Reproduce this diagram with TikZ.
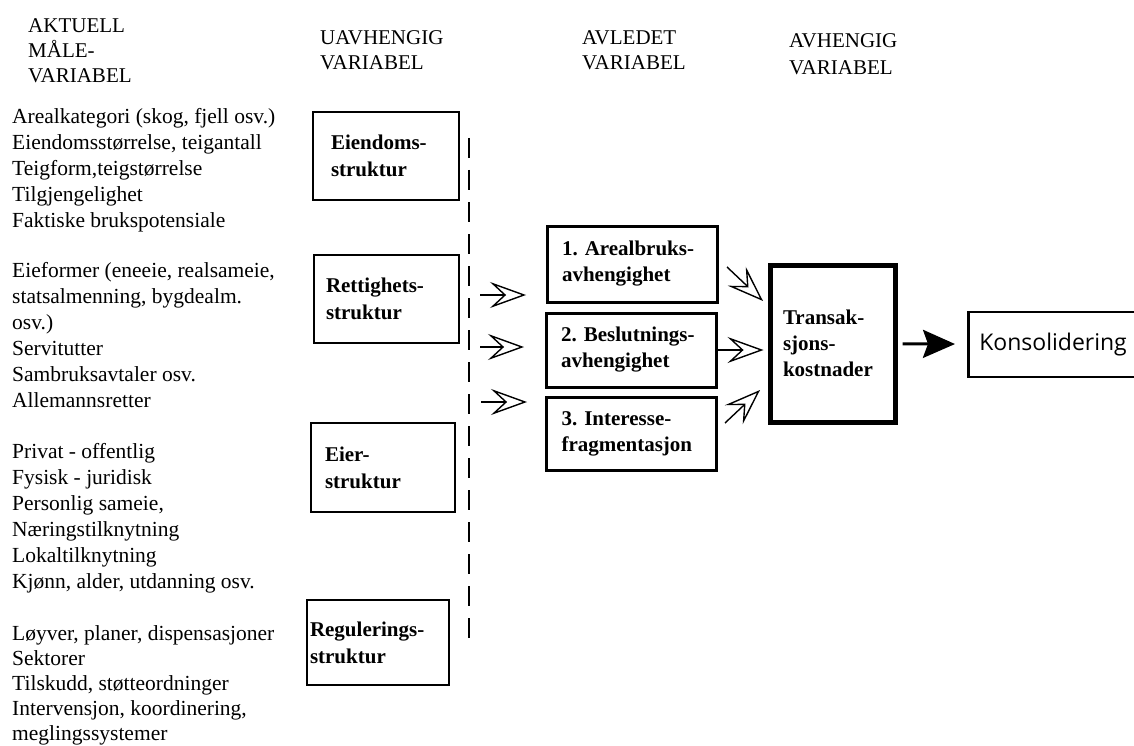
\documentclass[tikz,border=0pt]{standalone}
\usepackage{fontspec}
\setmainfont{Liberation Serif}
\newfontfamily\konsfont{Open Sans}
\usetikzlibrary{arrows.meta}

\begin{document}
\begin{tikzpicture}[x=1pt,y=-1pt]
\tikzset{hode/.style={anchor=base west, align=left, inner sep=0pt, font=\fontsize{21}{25}\selectfont}}
\tikzset{maal/.style={anchor=base west, align=left, inner sep=0pt, font=\fontsize{21.5}{26}\selectfont}}
\tikzset{uavboks/.style={draw, line width=1.6pt, align=left, inner ysep=0pt, font=\bfseries\fontsize{21}{27}\selectfont}}
\tikzset{avlboks/.style={draw, line width=3pt, align=left, inner xsep=15pt, inner ysep=0pt, text width=140pt, font=\frenchspacing\bfseries\fontsize{21}{26}\selectfont}}
\tikzset{aapen/.style={line width=1.4pt, -{Stealth[open, length=36pt, width=26pt, inset=14pt, line width=1.4pt]}}}
\tikzset{fet/.style={line width=3pt, -{Stealth[length=32pt, width=28pt, inset=5pt]}}}
\useasboundingbox (0,0) rectangle (1134,746);
\clip (0,0) rectangle (1134,746);
\node[hode] (H1) at (28,83) {AKTUELL\\MÅLE-\\VARIABEL};
\node[hode] (H2) at (320,70) {UAVHENGIG\\VARIABEL};
\node[hode] (H3) at (582,70) {AVLEDET\\VARIABEL};
\node[hode, font=\fontsize{21}{27}\selectfont] (H4) at (789,75) {AVHENGIG\\VARIABEL};
\node[maal] (M1) at (12,227) {Arealkategori (skog, fjell osv.)\\Eiendomsstørrelse, teigantall\\Teigform,teigstørrelse\\Tilgjengelighet\\Faktiske brukspotensiale};
\node[maal] (M2) at (12,407) {Eieformer (eneeie, realsameie,\\statsalmenning, bygdealm.\\osv.)\\Servitutter\\Sambruksavtaler osv.\\Allemannsretter};
\node[maal] (M3) at (12,588) {Privat - offentlig\\Fysisk - juridisk\\Personlig sameie,\\Næringstilknytning\\Lokaltilknytning\\Kjønn, alder, utdanning osv.};
\node[maal, font=\fontsize{21.5}{25}\selectfont] (M4) at (12,740) {Løyver, planer, dispensasjoner\\Sektorer\\Tilskudd, støtteordninger\\Intervensjon, koordinering,\\meglingssystemer};
\node[uavboks, inner xsep=18pt, text width=110pt, minimum height=88pt] (U1) at (386,156) {Eiendoms-\\struktur};
\node[uavboks, inner xsep=12pt, text width=121pt, minimum height=88pt] (U2) at (386.5,299) {Rettighets-\\struktur};
\node[uavboks, inner xsep=14pt, text width=116pt, minimum height=89pt] (U3) at (383,467.5) {Eier-\\struktur};
\node[uavboks, inner xsep=3pt, text width=136pt, minimum height=85pt] (U4) at (378,642.5) {Regulerings-\\struktur};
\coordinate (D1) at (469,138);
\coordinate (D2) at (469,642);
\draw[line width=2pt, dash pattern=on 20pt off 12pt] (D1) -- (D2);
\node[avlboks, minimum height=76pt] (A1) at (632,264) {1. Arealbruks-\\avhengighet};
\node[avlboks, minimum height=74pt] (A2) at (631,350) {2. Beslutnings-\\avhengighet};
\node[avlboks, minimum height=73pt] (A3) at (631.5,433.5) {3. Interesse-\\fragmentasjon};
\node[draw, line width=5pt, align=left, inner xsep=13pt, text width=99pt, minimum height=157pt, font=\bfseries\fontsize{21}{26}\selectfont] (T) at (832.5,343.5) {Transak-\\sjons-\\kostnader};
\node[draw, line width=2.5pt, anchor=west, align=left, inner xsep=11pt, text width=170pt, minimum height=65pt, font=\konsfont\fontsize{23}{27}\selectfont] (K) at (967,344.5) {Konsolidering};
\coordinate (P1) at (480,295);
\coordinate (Q1) at (526,295);
\coordinate (P2) at (480,347);
\coordinate (Q2) at (524,347);
\coordinate (P3) at (481,402);
\coordinate (Q3) at (527,402);
\coordinate (R1) at (727,267);
\coordinate (S1) at (763,301);
\coordinate (R3) at (725,423);
\coordinate (S3) at (760,390);
\draw[aapen] (P1) -- (Q1);
\draw[aapen] (P2) -- (Q2);
\draw[aapen] (P3) -- (Q3);
\draw[aapen] (R1) -- (S1);
\draw[aapen, shorten >=4pt] (A2.east) -- (A2.east -| T.west);
\draw[aapen] (R3) -- (S3);
\draw[fet, shorten <=5pt, shorten >=12pt] (T) -- (K);
\end{tikzpicture}
\end{document}
